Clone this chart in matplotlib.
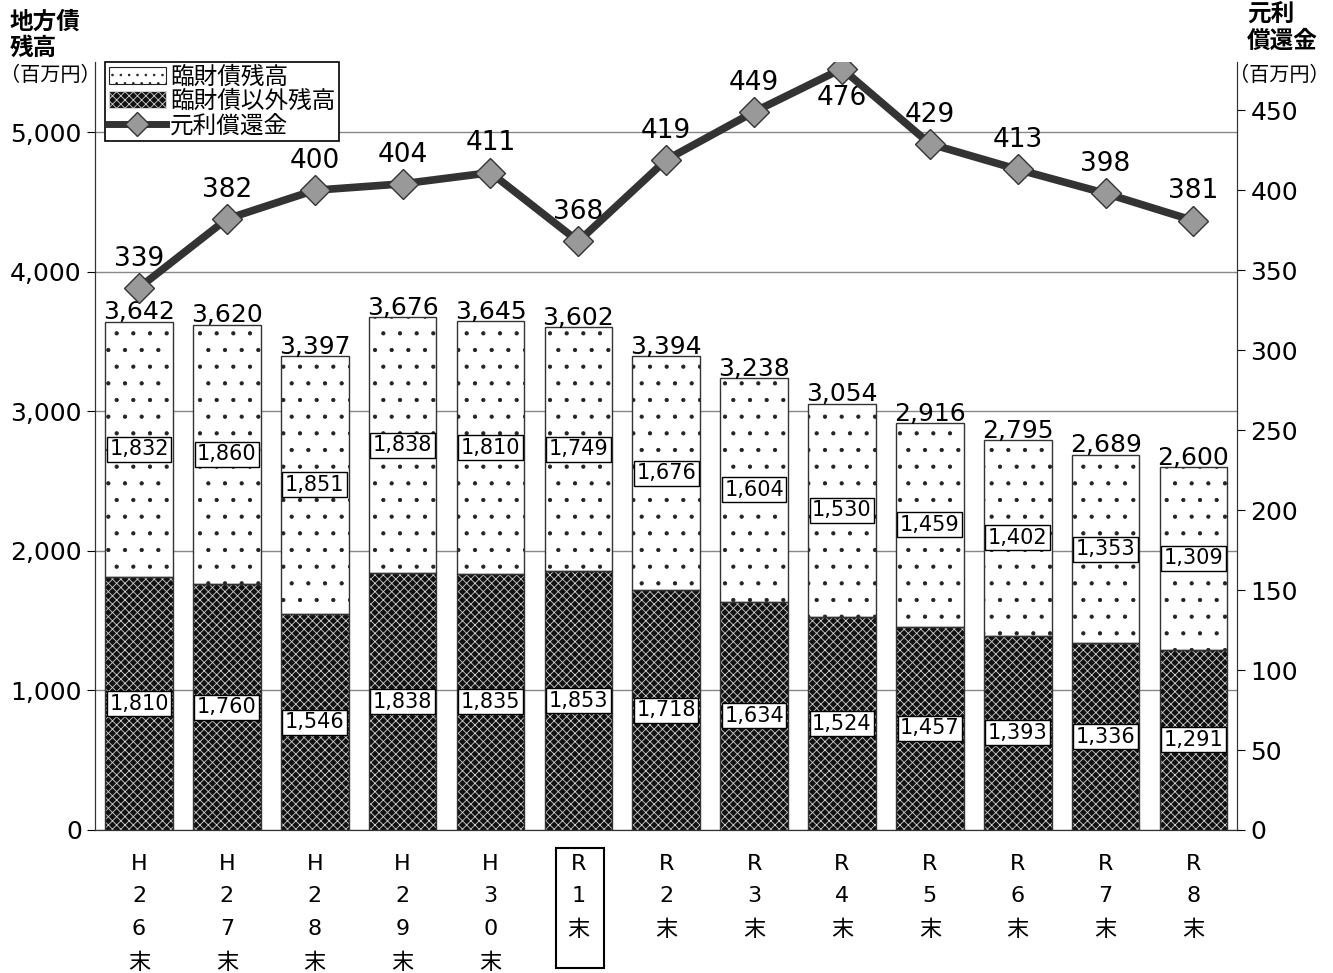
import numpy as np
import matplotlib
matplotlib.use("Agg")
import matplotlib.pyplot as plt
from matplotlib.patches import Patch, Rectangle
from matplotlib.lines import Line2D
from matplotlib.ticker import FuncFormatter

plt.rcParams["font.family"] = ["DejaVu Sans", "Noto Sans CJK JP"]
plt.rcParams["hatch.linewidth"] = 0.6

# data
categories = ["H\n2\n6\n末", "H\n2\n7\n末", "H\n2\n8\n末", "H\n2\n9\n末", "H\n3\n0\n末",
              "R\n1\n末", "R\n2\n末", "R\n3\n末", "R\n4\n末", "R\n5\n末",
              "R\n6\n末", "R\n7\n末", "R\n8\n末"]
rinzai = [1832, 1860, 1851, 1838, 1810, 1749, 1676, 1604, 1530, 1459, 1402, 1353, 1309]
other = [1810, 1760, 1546, 1838, 1835, 1853, 1718, 1634, 1524, 1457, 1393, 1336, 1291]
totals = [3642, 3620, 3397, 3676, 3645, 3602, 3394, 3238, 3054, 2916, 2795, 2689, 2600]
repay = [339, 382, 400, 404, 411, 368, 419, 449, 476, 429, 413, 398, 381]

x = np.arange(len(categories))
w = 0.77

fig = plt.figure(figsize=(13.33, 9.73), dpi=100)
ax = fig.add_axes([0.0713, 0.147, 0.857, 0.789])
ax2 = ax.twinx()

# lower (dark) segment: hatch drawn in white over dark face
ax.bar(x, other, w, color="#111111", edgecolor="#d0d0d0", hatch="xxxx", lw=0, zorder=2)
ax.bar(x, other, w, facecolor="none", edgecolor="#333333", lw=1.0, zorder=3)
# upper (dotted) segment
ax.bar(x, rinzai, w, bottom=other, color="white", edgecolor="#222222", hatch=".", lw=0, zorder=2)
ax.bar(x, rinzai, w, bottom=other, facecolor="none", edgecolor="#333333", lw=1.0, zorder=3)

box = dict(boxstyle="square,pad=0.12", fc="white", ec="black", lw=1)
for i in range(len(x)):
    ax.text(x[i], other[i] / 2, f"{other[i]:,}", ha="center", va="center",
            fontsize=15, bbox=box, zorder=5)
    ax.text(x[i], other[i] + rinzai[i] / 2, f"{rinzai[i]:,}", ha="center", va="center",
            fontsize=15, bbox=box, zorder=5)
    ax.annotate(f"{totals[i]:,}", (x[i], totals[i]), xytext=(0, -2), textcoords="offset points",
                ha="center", va="bottom", fontsize=18, zorder=5)

ax.set_xlim(-0.5, len(x) - 0.5)
ax.set_ylim(0, 5500)
ax.set_yticks(np.arange(0, 5001, 1000))
ax.yaxis.set_major_formatter(FuncFormatter(lambda v, p: f"{int(v):,}"))
ax.set_axisbelow(True)
ax.yaxis.grid(True, color="#888888", lw=1)
ax.set_xticks(x)
ax.set_xticklabels(categories, fontsize=16, linespacing=1.8, va="top")
ax.tick_params(axis="x", length=0, pad=17)
ax.tick_params(axis="y", labelsize=18, length=6, direction="out")

# line
ax2.plot(x, repay, color="#333333", lw=5.5, marker="D", markersize=15,
         markerfacecolor="#999999", markeredgecolor="#333333", markeredgewidth=1, zorder=6)
for i in range(len(x)):
    dy = -21 if repay[i] == max(repay) else 21
    ax2.annotate(str(repay[i]), (x[i], repay[i]), xytext=(0, dy), textcoords="offset points",
                 ha="center", va="center", fontsize=19)
ax2.set_ylim(0, 480)
ax2.set_yticks(np.arange(0, 451, 50))
ax2.tick_params(axis="y", labelsize=18, length=6, direction="out")

for a in (ax, ax2):
    a.spines["top"].set_visible(False)
    for s in ("left", "right", "bottom"):
        a.spines[s].set_color("#333333")

# boxed R1 label
fig.patches.append(Rectangle((556 / 1333, 1 - 968 / 973), 48 / 1333, 120 / 973,
                             transform=fig.transFigure, fill=False, ec="black", lw=1.5))

# legend
handles = [Patch(facecolor="white", edgecolor="#222222", hatch="..", lw=0.8),
           Patch(facecolor="#111111", edgecolor="#d0d0d0", hatch="xxxx", lw=0.8),
           Line2D([], [], color="#333333", lw=5, marker="D", markersize=12,
                  markerfacecolor="#999999", markeredgecolor="#333333")]
leg = ax.legend(handles, ["臨財債残高", "臨財債以外残高", "元利償還金"],
                loc="upper left", bbox_to_anchor=(0.009, 1.0), borderaxespad=0,
                prop={"family": ["Noto Sans CJK JP"], "size": 17},
                fancybox=False, edgecolor="black", framealpha=1,
                handlelength=2.4, handletextpad=0.2, labelspacing=0.05, borderpad=0.15)
leg.get_frame().set_linewidth(1.2)
leg.set_zorder(10)

# axis titles
cjk = ["Noto Sans CJK JP"]
fig.text(10 / 1333, 1 - 10 / 973, "地方債\n残高", ha="left", va="top", fontsize=17,
         family=cjk, fontweight="bold", linespacing=1.1)
fig.text(0 / 1333, 1 - 75 / 973, "（百万円）", ha="left", va="center", fontsize=14.5, family=cjk)
fig.text(1247 / 1333, 1 - 3 / 973, "元利\n償還金", ha="left", va="top", fontsize=17,
         family=cjk, fontweight="bold", linespacing=1.1)
fig.text(1330 / 1333, 1 - 75 / 973, "（百万円）", ha="right", va="center", fontsize=14.5, family=cjk)

fig.savefig("out.png", dpi=100)
